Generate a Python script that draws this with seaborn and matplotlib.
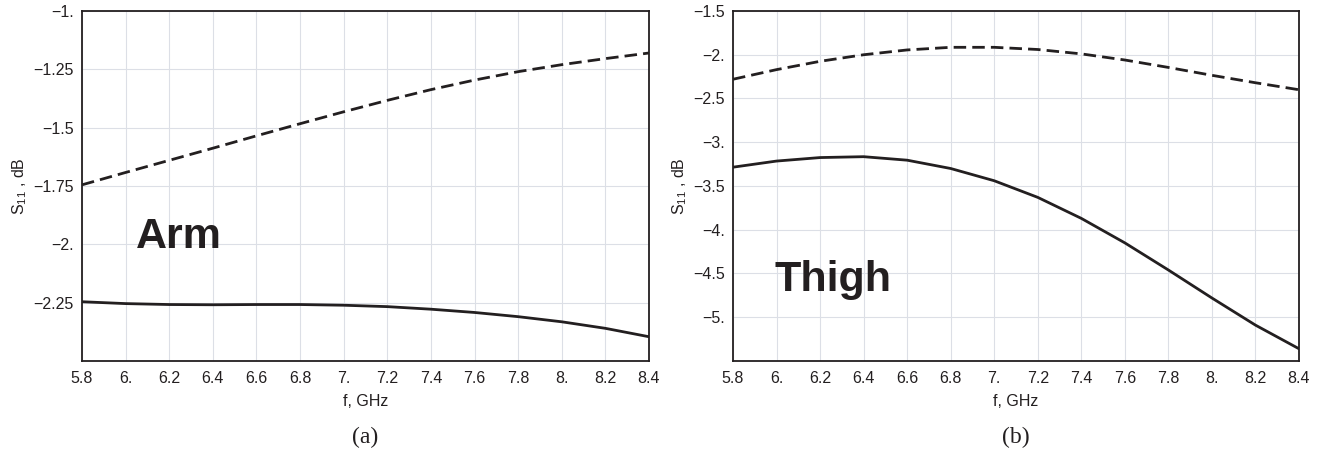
# S11 vs frequency, arm and thigh placement
import seaborn as sns
import matplotlib.pyplot as plt
import pandas as pd
import numpy as np

# frequency points (GHz)
freq = [5.8, 6.0, 6.2, 6.4, 6.6, 6.8, 7.0, 7.2, 7.4, 7.6, 7.8, 8.0, 8.2, 8.4]

# (a) arm
arm_dashed = [-1.745, -1.692, -1.64, -1.588, -1.535, -1.483, -1.432, -1.383,
              -1.337, -1.296, -1.26, -1.23, -1.204, -1.18]
arm_solid = [-2.246, -2.254, -2.258, -2.259, -2.258, -2.258, -2.261, -2.267,
             -2.278, -2.292, -2.31, -2.332, -2.36, -2.396]

# (b) thigh
thigh_dashed = [-2.28, -2.17, -2.075, -2.0, -1.945, -1.915, -1.915, -1.94,
                -1.99, -2.06, -2.145, -2.235, -2.32, -2.40]
thigh_solid = [-3.285, -3.215, -3.175, -3.165, -3.205, -3.30, -3.44, -3.63,
               -3.87, -4.15, -4.46, -4.78, -5.09, -5.36]

x_ticks = [5.8, 6.0, 6.2, 6.4, 6.6, 6.8, 7.0, 7.2, 7.4, 7.6, 7.8, 8.0, 8.2, 8.4]
x_ticklabels = ['5.8', '6.', '6.2', '6.4', '6.6', '6.8', '7.', '7.2', '7.4',
                '7.6', '7.8', '8.', '8.2', '8.4']
arm_yticks = [-2.25, -2.0, -1.75, -1.5, -1.25, -1.0]
arm_yticklabels = ['\u22122.25', '\u22122.', '\u22121.75', '\u22121.5', '\u22121.25', '\u22121.']
thigh_yticks = [-5.0, -4.5, -4.0, -3.5, -3.0, -2.5, -2.0, -1.5]
thigh_yticklabels = ['\u22125.', '\u22124.5', '\u22124.', '\u22123.5', '\u22123.',
                     '\u22122.5', '\u22122.', '\u22121.5']

sns.set_style("white")
plt.rcParams['font.family'] = ['Liberation Sans', 'DejaVu Sans']
plt.rcParams['mathtext.fontset'] = 'custom'
plt.rcParams['mathtext.rm'] = 'Liberation Sans'
plt.rcParams['mathtext.it'] = 'Liberation Sans'

fig = plt.figure(figsize=(13.24, 4.55), dpi=100)
W, H = 1324, 455
ax_a = fig.add_axes([82 / W, 1 - 361 / H, 567 / W, 350 / H])
ax_b = fig.add_axes([733 / W, 1 - 361 / H, 566 / W, 350 / H])

panels = [
    (ax_a, arm_dashed, arm_solid, (-2.5, -1.0), arm_yticks, arm_yticklabels,
     'Arm', (6.045, -1.97), '(a)'),
    (ax_b, thigh_dashed, thigh_solid, (-5.5, -1.5), thigh_yticks, thigh_yticklabels,
     'Thigh', (5.99, -4.58), '(b)'),
]

line_col = '#231f20'
for ax, dashed, solid, ylim, yt, ytl, name, pos, tag in panels:
    df = pd.DataFrame({'f': freq, 'dashed': dashed, 'solid': solid})
    sns.lineplot(data=df, x='f', y='dashed', ax=ax, color=line_col, lw=2.0)
    ax.lines[-1].set_dashes((4.5, 2.2))
    sns.lineplot(data=df, x='f', y='solid', ax=ax, color=line_col, lw=2.0)

    ax.set_xlim(5.8, 8.4)
    ax.set_ylim(*ylim)
    ax.set_xticks(x_ticks)
    ax.set_xticklabels(x_ticklabels)
    ax.set_yticks(yt)
    ax.set_yticklabels(ytl)
    ax.grid(True, color='#dcdfe6', lw=0.8)
    ax.tick_params(axis='x', direction='in', length=4, width=1, labelsize=11.5,
                   pad=7, colors=line_col)
    ax.tick_params(axis='y', direction='out', length=4, width=1, labelsize=11.5,
                   pad=2, colors=line_col)
    for sp in ax.spines.values():
        sp.set_visible(True)
        sp.set_color(line_col)
        sp.set_linewidth(1.3)

    ax.set_xlabel('f, GHz', fontsize=11.5, color=line_col, labelpad=6)
    ax.set_ylabel(r'S$_{11}$ , dB', fontsize=11.5, color=line_col, labelpad=3)
    ax.text(pos[0], pos[1], name, fontsize=31, fontweight='bold', color=line_col,
            ha='left', va='center')
    bb = ax.get_position()
    fig.text((bb.x0 + bb.x1) / 2, 1 - 437 / H, tag, ha='center', va='center',
             fontsize=17, family=['Liberation Serif'], color=line_col)

fig.savefig('out.png', dpi=100)
